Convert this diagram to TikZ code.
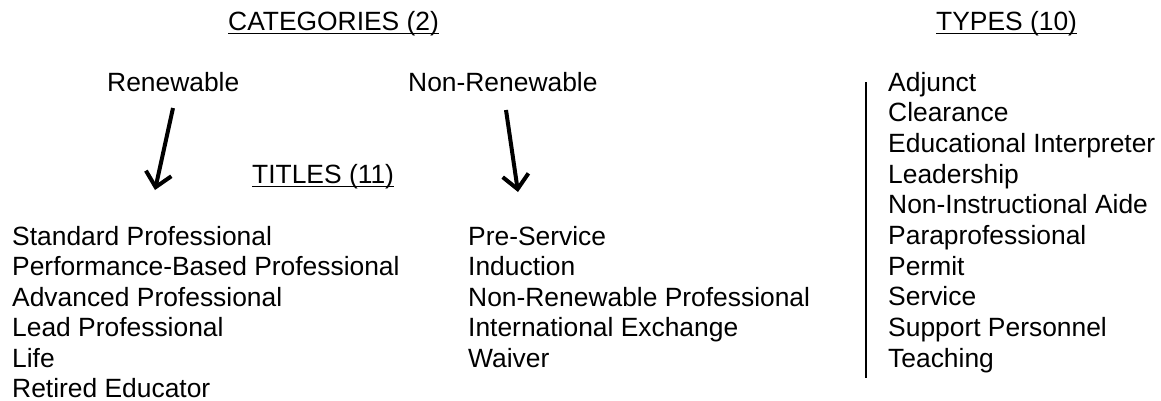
\documentclass[tikz,border=0pt]{standalone}
\usepackage{fontspec}
\setmainfont{Liberation Sans}
\usetikzlibrary{arrows.meta}

\begin{document}
\begin{tikzpicture}[x=1pt, y=-1pt,
		txt/.style={anchor=base west, inner sep=0pt, font=\fontsize{26.4}{30.7}\selectfont},
		uline/.style={line width=1.6pt},
		pointer/.style={line width=4pt, -{Straight Barb[length=14pt, width=26pt]}}]
		\useasboundingbox (0,0) rectangle (1161,400);
		% headings
		\node[txt] (cat) at (228,30) {CATEGORIES (2)};
		\node[txt] (typ) at (936,30) {TYPES (10)};
		\node[txt] (tit) at (252,183) {TITLES (11)};
		\foreach \h in {cat,typ,tit}
		\draw[uline] ([yshift=-3.5pt]\h.base west) -- ([yshift=-3.5pt]\h.base east);
		% categories
		\node[txt] (ren) at (107,91) {Renewable};
		\node[txt] (nonren) at (408,91) {Non-Renewable};
		\coordinate (ren-from) at (173,108);
		\coordinate (ren-to) at (155,190);
		\coordinate (nonren-from) at (506,110);
		\coordinate (nonren-to) at (518,192);
		\draw[pointer] (ren-from) -- (ren-to);
		\draw[pointer] (nonren-from) -- (nonren-to);
		% titles
		\foreach \t [count=\i from 0] in {Standard Professional, Performance-Based Professional, Advanced Professional, Lead Professional, Life, Retired Educator}
		\node[txt] (ren-\i) at (12,245+30.5*\i) {\t};
		\foreach \t [count=\i from 0] in {Pre-Service, Induction, Non-Renewable Professional, International Exchange, Waiver}
		\node[txt] (nonren-\i) at (468,245+30.5*\i) {\t};
		% types
		\coordinate (bar-top) at (866,82);
		\coordinate (bar-bot) at (866,378);
		\draw[line width=1.8pt] (bar-top) -- (bar-bot);
		\foreach \t [count=\i from 0] in {Adjunct, Clearance, Educational Interpreter, Leadership, Non-Instructional Aide, Paraprofessional, Permit, Service, Support Personnel, Teaching}
		\node[txt] (typ-\i) at (888,91+30.67*\i) {\t};
\end{tikzpicture}
\end{document}
